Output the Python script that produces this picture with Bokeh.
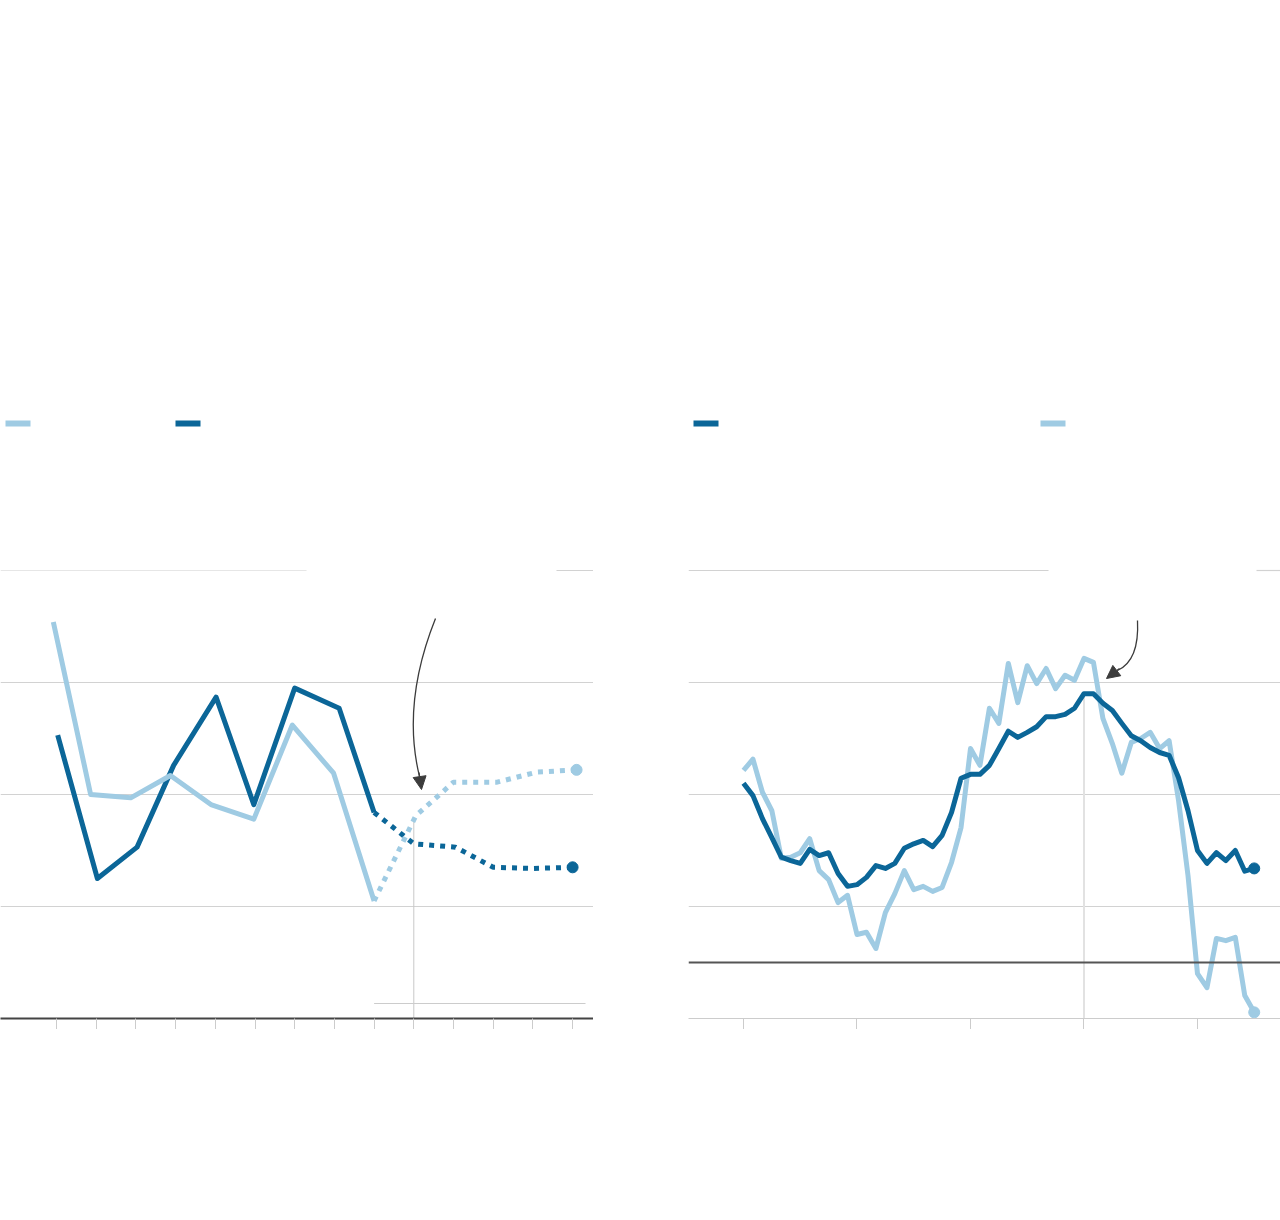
from bokeh.plotting import figure
from bokeh.layouts import row
from bokeh.models import (Range1d, FixedTicker, Span, Arrow, NormalHead, Grid,
                          CustomJSTickFormatter)
from bokeh.embed import file_html
from bokeh.resources import INLINE

LIGHT = "#9fcbe3"
DARK = "#0b6698"
GRID = "#d2d2d2"
INK = "#3c3c3c"

# ---------------- left chart data ----------------
left_ticks = list(range(2010, 2024))
left_light_x = [2009.92, 2010.86, 2011.87, 2012.87, 2013.89, 2014.97, 2015.94, 2016.98, 2018.0]
left_light_y = [35.4, 20.0, 19.7, 21.7, 19.1, 17.8, 26.2, 21.9, 10.5]
left_dark_x = [2010.03, 2011.03, 2012.03, 2012.95, 2014.02, 2014.97, 2016.0, 2017.12, 2018.0]
left_dark_y = [25.3, 12.5, 15.3, 22.6, 28.7, 19.1, 29.5, 27.7, 18.4]
left_light_proj_x = [2018.0, 2019.05, 2020.0, 2021.1, 2022.1, 2023.1]
left_light_proj_y = [10.5, 18.1, 21.1, 21.1, 22.0, 22.2]
left_dark_proj_x = [2018.0, 2019.0, 2020.05, 2021.0, 2022.0, 2023.0]
left_dark_proj_y = [18.4, 15.6, 15.3, 13.5, 13.4, 13.5]
left_grid = [10, 20, 30]
left_top = 40

# ---------------- right chart data ----------------
months = list(range(55))
right_ticks = [0, 12, 24, 36, 48]
right_dark = [32.0, 29.8, 25.7, 22.3, 18.8, 18.2, 17.7, 20.2, 19.1, 19.6,
              15.9, 13.6, 13.9, 15.2, 17.3, 16.8, 17.7, 20.4, 21.2, 21.8,
              20.7, 22.7, 26.8, 32.9, 33.6, 33.6, 35.2, 38.2, 41.3, 40.2,
              41.1, 42.1, 43.9, 43.9, 44.3, 45.4, 48.0, 48.0, 46.3, 45.0,
              42.7, 40.5, 39.6, 38.4, 37.5, 37.0, 33.0, 27.1, 20.0, 17.7,
              19.6, 18.2, 20.0, 16.3, 16.8]
right_light = [34.3, 36.3, 30.4, 27.1, 18.6, 18.8, 19.6, 22.1, 16.4, 14.8,
               10.7, 12.0, 5.0, 5.4, 2.5, 8.9, 12.3, 16.4, 13.0, 13.6,
               12.7, 13.4, 17.9, 24.1, 38.2, 35.2, 45.4, 42.7, 53.4, 46.4,
               53.0, 49.8, 52.5, 48.9, 51.3, 50.4, 54.3, 53.6, 43.6, 39.1,
               33.8, 39.3, 40.0, 41.1, 38.2, 39.6, 28.9, 15.5, -2.0, -4.5,
               4.3, 3.9, 4.5, -5.9, -8.9]
right_grid = [10, 30, 50]
right_top = 70
right_marker_month = 36

LW = 5
DASH = "5 6"


def base_fig(xr, yr, fw, border_left):
    p = figure(frame_width=fw, frame_height=1018, x_range=xr, y_range=yr,
               output_backend="svg", toolbar_location=None,
               y_axis_location=None, x_axis_location="below",
               min_border_left=border_left, min_border_right=0,
               min_border_top=0, min_border_bottom=4)
    p.outline_line_color = None
    p.background_fill_color = "white"
    p.border_fill_color = "white"
    for g in p.grid:
        g.grid_line_color = None
    ax = p.xaxis[0]
    ax.formatter = CustomJSTickFormatter(code="return ''")
    ax.major_tick_in = 0
    ax.major_tick_out = 11
    ax.major_tick_line_color = "#cccccc"
    ax.minor_tick_line_color = None
    ax.major_label_standoff = 0
    return p


# ================= LEFT =================
def lx(px):
    return 2010 + (px - 56) / 39.7


def ly(py):
    return (1018 - py) / 11.2


pl = base_fig(Range1d(lx(0), lx(593)), Range1d(ly(1018), ly(0)), 593, 0)
pl.xaxis[0].ticker = FixedTicker(ticks=left_ticks)
pl.xaxis[0].axis_line_color = "#444444"
pl.xaxis[0].axis_line_width = 2
pl.add_layout(Grid(dimension=1, ticker=FixedTicker(ticks=left_grid),
                   grid_line_color=GRID, grid_line_width=1))
# top gridline (broken where the label sits)
pl.segment(x0=[lx(0)], y0=[left_top], x1=[lx(306)], y1=[left_top],
           line_color="#e6e6e6", line_width=1.2)
pl.segment(x0=[lx(556)], y0=[left_top], x1=[lx(593)], y1=[left_top],
           line_color=GRID, line_width=1.2)
# forecast marker lines
pl.segment(x0=[left_light_proj_x[1] - 0.05], y0=[0], x1=[left_light_proj_x[1] - 0.05],
           y1=[left_light_proj_y[1] - 0.2], line_color="#c8c8c8", line_width=1)
pl.segment(x0=[left_dark_x[-1]], y0=[ly(1003)], x1=[lx(585)], y1=[ly(1003)],
           line_color="#cccccc", line_width=1.2)

# series
pl.line(left_dark_x, left_dark_y, line_color=DARK, line_width=LW, line_join="round")
pl.line(left_dark_proj_x, left_dark_proj_y, line_color=DARK, line_width=LW,
        line_dash=DASH)
pl.line(left_light_x, left_light_y, line_color=LIGHT, line_width=LW, line_join="round")
pl.line(left_light_proj_x, left_light_proj_y, line_color=LIGHT, line_width=LW,
        line_dash=DASH)
pl.scatter([left_light_proj_x[-1]], [left_light_proj_y[-1]], size=11,
           fill_color=LIGHT, line_color=LIGHT)
pl.scatter([left_dark_proj_x[-1]], [left_dark_proj_y[-1]], size=11,
           fill_color=DARK, line_color=DARK)

# legend swatches
pl.quad(left=[lx(5), lx(175)], right=[lx(30), lx(200)], top=[ly(420), ly(420)],
        bottom=[ly(426), ly(426)], fill_color=[LIGHT, DARK], line_color=None)

# annotation arrow
pl.quadratic(x0=[lx(435)], y0=[ly(618)], x1=[lx(419)], y1=[ly(776)],
             cx=[lx(401)], cy=[ly(703)], line_color=INK, line_width=1.3)
pl.add_layout(Arrow(end=NormalHead(size=13, fill_color=INK, line_color=INK, line_width=1),
                    x_start=lx(418.5), y_start=ly(772), x_end=lx(421), y_end=ly(789),
                    line_color=INK, line_width=1.3))


# ================= RIGHT =================
def rx(px):
    return (px - 743) / 9.458


def ry(py):
    return (962 - py) / 5.6


pr = base_fig(Range1d(rx(688), rx(1280)), Range1d(ry(1018), ry(0)), 592, 95)
pr.xaxis[0].ticker = FixedTicker(ticks=right_ticks)
pr.xaxis[0].axis_line_color = "#cccccc"
pr.xaxis[0].axis_line_width = 1
pr.add_layout(Grid(dimension=1, ticker=FixedTicker(ticks=right_grid),
                   grid_line_color=GRID, grid_line_width=1))
pr.segment(x0=[rx(688), rx(1256)], y0=[right_top, right_top],
           x1=[rx(1048), rx(1280)], y1=[right_top, right_top],
           line_color=GRID, line_width=1.2)
pr.segment(x0=[right_marker_month], y0=[ry(1018)], x1=[right_marker_month],
           y1=[right_dark[right_marker_month]], line_color="#e2e2e2", line_width=2)
pr.add_layout(Span(location=0, dimension="width", line_color="#555555", line_width=2))

pr.line(months, right_light, line_color=LIGHT, line_width=LW, line_join="round")
pr.line(months, right_dark, line_color=DARK, line_width=LW, line_join="round")
pr.scatter([months[-1]], [right_light[-1]], size=11, fill_color=LIGHT, line_color=LIGHT)
pr.scatter([months[-1]], [right_dark[-1]], size=11, fill_color=DARK, line_color=DARK)

pr.quad(left=[rx(693), rx(1040)], right=[rx(718), rx(1065)], top=[ry(420), ry(420)],
        bottom=[ry(426), ry(426)], fill_color=[DARK, LIGHT], line_color=None)

pr.quadratic(x0=[rx(1137)], y0=[ry(620)], x1=[rx(1117)], y1=[ry(670)],
             cx=[rx(1139)], cy=[ry(660)], line_color=INK, line_width=1.3)
pr.add_layout(Arrow(end=NormalHead(size=13, fill_color=INK, line_color=INK, line_width=1),
                    x_start=rx(1119), y_start=ry(668), x_end=rx(1106), y_end=ry(678),
                    line_color=INK, line_width=1.3))

layout = row(pl, pr)
open("out.html", "w").write(file_html(layout, INLINE))
